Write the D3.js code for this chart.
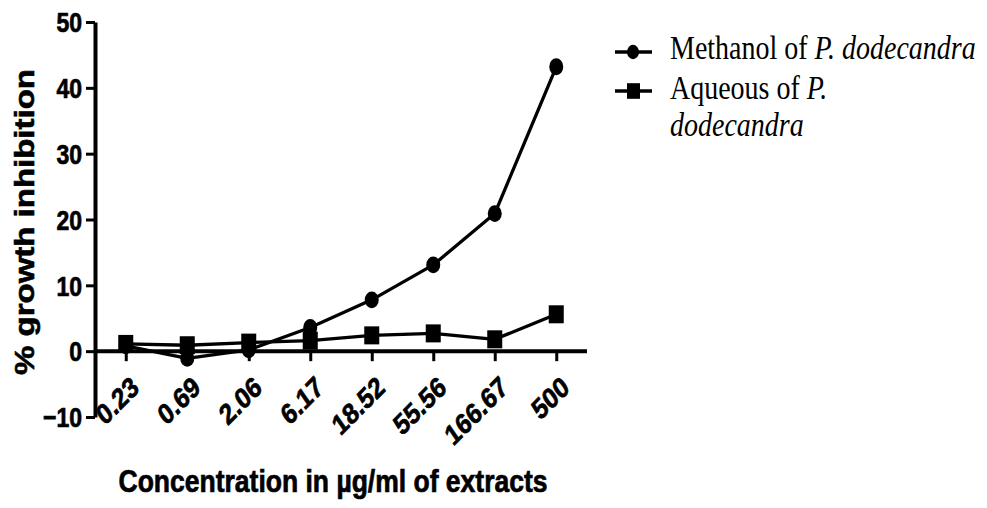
<!DOCTYPE html>
<html>
<head>
<meta charset="utf-8">
<script src="https://cdn.jsdelivr.net/npm/d3@7/dist/d3.min.js"></script>
<style>
  html, body { margin: 0; padding: 0; background: #fff; }
  svg { display: block; }
</style>
</head>
<body>
<svg id="chart" width="987" height="508"></svg>
<script>
// Concentrations (µg/ml) used as ordinal x categories
const concentrations = ["0.23", "0.69", "2.06", "6.17", "18.52", "55.56", "166.67", "500"];
// % growth inhibition per extract
const methanolValues = [0.8, -1.1, 0.2, 3.6, 7.8, 13.1, 20.9, 43.2];
const aqueousValues  = [1.1, 0.9, 1.3, 1.6, 2.4, 2.7, 1.8, 5.6];
const yTicks = [-10, 0, 10, 20, 30, 40, 50];

const svg = d3.select("#chart");
const SY = 1.2; // vertical stretch applied to text and markers
const sansBold = "Liberation Sans, Arial, sans-serif";

const x = d3.scalePoint().domain(concentrations).range([95, 587]).padding(0.5);
const y = d3.scaleLinear().domain([-10, 50]).range([417, 22]);

// heavier bold look for the axis text
function heavy(sel) {
  return sel.attr("stroke", "#000").attr("stroke-width", 0.6).attr("paint-order", "stroke");
}

// Y axis
const yAxis = svg.append("g")
  .attr("transform", "translate(95,0)")
  .call(d3.axisLeft(y).tickValues(yTicks).tickSize(9).tickSizeOuter(0).tickPadding(4));
yAxis.select(".domain").attr("stroke", "#000").attr("stroke-width", 4);
yAxis.selectAll(".tick line").attr("stroke", "#000").attr("stroke-width", 3);
yAxis.selectAll(".tick text")
  .attr("font-family", sansBold)
  .attr("font-weight", "bold")
  .attr("font-size", 23)
  .attr("fill", "#000")
  .attr("x", null).attr("dy", null)
  .attr("dominant-baseline", "central")
  .attr("transform", `translate(-13,0) scale(1,${SY})`)
  .call(heavy);

// X axis at y = 0
const xAxis = svg.append("g")
  .attr("transform", `translate(0,${y(0)})`)
  .call(d3.axisBottom(x).tickSize(10).tickSizeOuter(0));
xAxis.select(".domain").attr("stroke", "#000").attr("stroke-width", 4)
  .attr("d", `M95,0H587`);
xAxis.selectAll(".tick line").attr("stroke", "#000").attr("stroke-width", 3);
xAxis.selectAll(".tick text")
  .attr("font-family", sansBold)
  .attr("font-weight", "bold")
  .attr("font-size", 24)
  .attr("fill", "#000")
  .attr("y", null).attr("dy", null)
  .attr("text-anchor", "end")
  .attr("dominant-baseline", "hanging")
  .attr("transform", `translate(3,23) scale(1,${SY}) rotate(-40)`)
  .call(heavy);

// Series lines and markers
const line = d3.line().x((d, i) => x(concentrations[i])).y(d => y(d));

function drawSeries(values, shape) {
  svg.append("path").datum(values)
    .attr("d", line).attr("fill", "none")
    .attr("stroke", "#000").attr("stroke-width", 3.3).attr("stroke-linejoin", "round");
  const g = svg.append("g");
  values.forEach((v, i) => {
    const cx = x(concentrations[i]), cy = y(v);
    if (shape === "circle") {
      g.append("ellipse").attr("cx", cx).attr("cy", cy).attr("rx", 7).attr("ry", 7 * SY).attr("fill", "#000");
    } else {
      g.append("rect").attr("x", cx - 7.5).attr("y", cy - 7.5 * SY)
        .attr("width", 15).attr("height", 15 * SY).attr("fill", "#000");
    }
  });
}
drawSeries(methanolValues, "circle");
drawSeries(aqueousValues, "square");

// Axis titles
svg.append("text")
  .attr("font-family", sansBold)
  .attr("font-weight", "bold").attr("font-size", 26.5).attr("fill", "#000")
  .attr("text-anchor", "middle")
  .attr("transform", `translate(333,492) scale(1,${SY})`)
  .text("Concentration in µg/ml of extracts")
  .call(heavy);

svg.append("text")
  .attr("font-family", sansBold)
  .attr("font-weight", "bold").attr("font-size", 27.5).attr("fill", "#000")
  .attr("text-anchor", "middle")
  .attr("transform", `translate(34,222) scale(1,${SY}) rotate(-90)`)
  .text("% growth inhibition")
  .call(heavy);

// Legend
const legend = svg.append("g");
const legendFont = "Liberation Serif, Times New Roman, serif";
function legendMarker(cy, shape) {
  legend.append("line").attr("x1", 615).attr("x2", 652).attr("y1", cy).attr("y2", cy)
    .attr("stroke", "#000").attr("stroke-width", 3.3);
  if (shape === "circle") {
    legend.append("ellipse").attr("cx", 633).attr("cy", cy).attr("rx", 6).attr("ry", 6 * SY).attr("fill", "#000");
  } else {
    legend.append("rect").attr("x", 627).attr("y", cy - 6.5 * SY).attr("width", 13).attr("height", 13 * SY).attr("fill", "#000");
  }
}
function legendText(yBase, parts) {
  const t = legend.append("text")
    .attr("font-family", legendFont).attr("font-size", 28).attr("fill", "#000")
    .attr("transform", `translate(670,${yBase}) scale(1,${SY})`);
  parts.forEach(p => t.append("tspan").attr("font-style", p[1] ? "italic" : "normal").text(p[0]));
}
legendMarker(52, "circle");
legendText(59, [["Methanol of ", false], ["P. dodecandra", true]]);
legendMarker(91, "square");
legendText(99, [["Aqueous of ", false], ["P.", true]]);
legendText(136, [["dodecandra", true]]);
</script>
</body>
</html>
